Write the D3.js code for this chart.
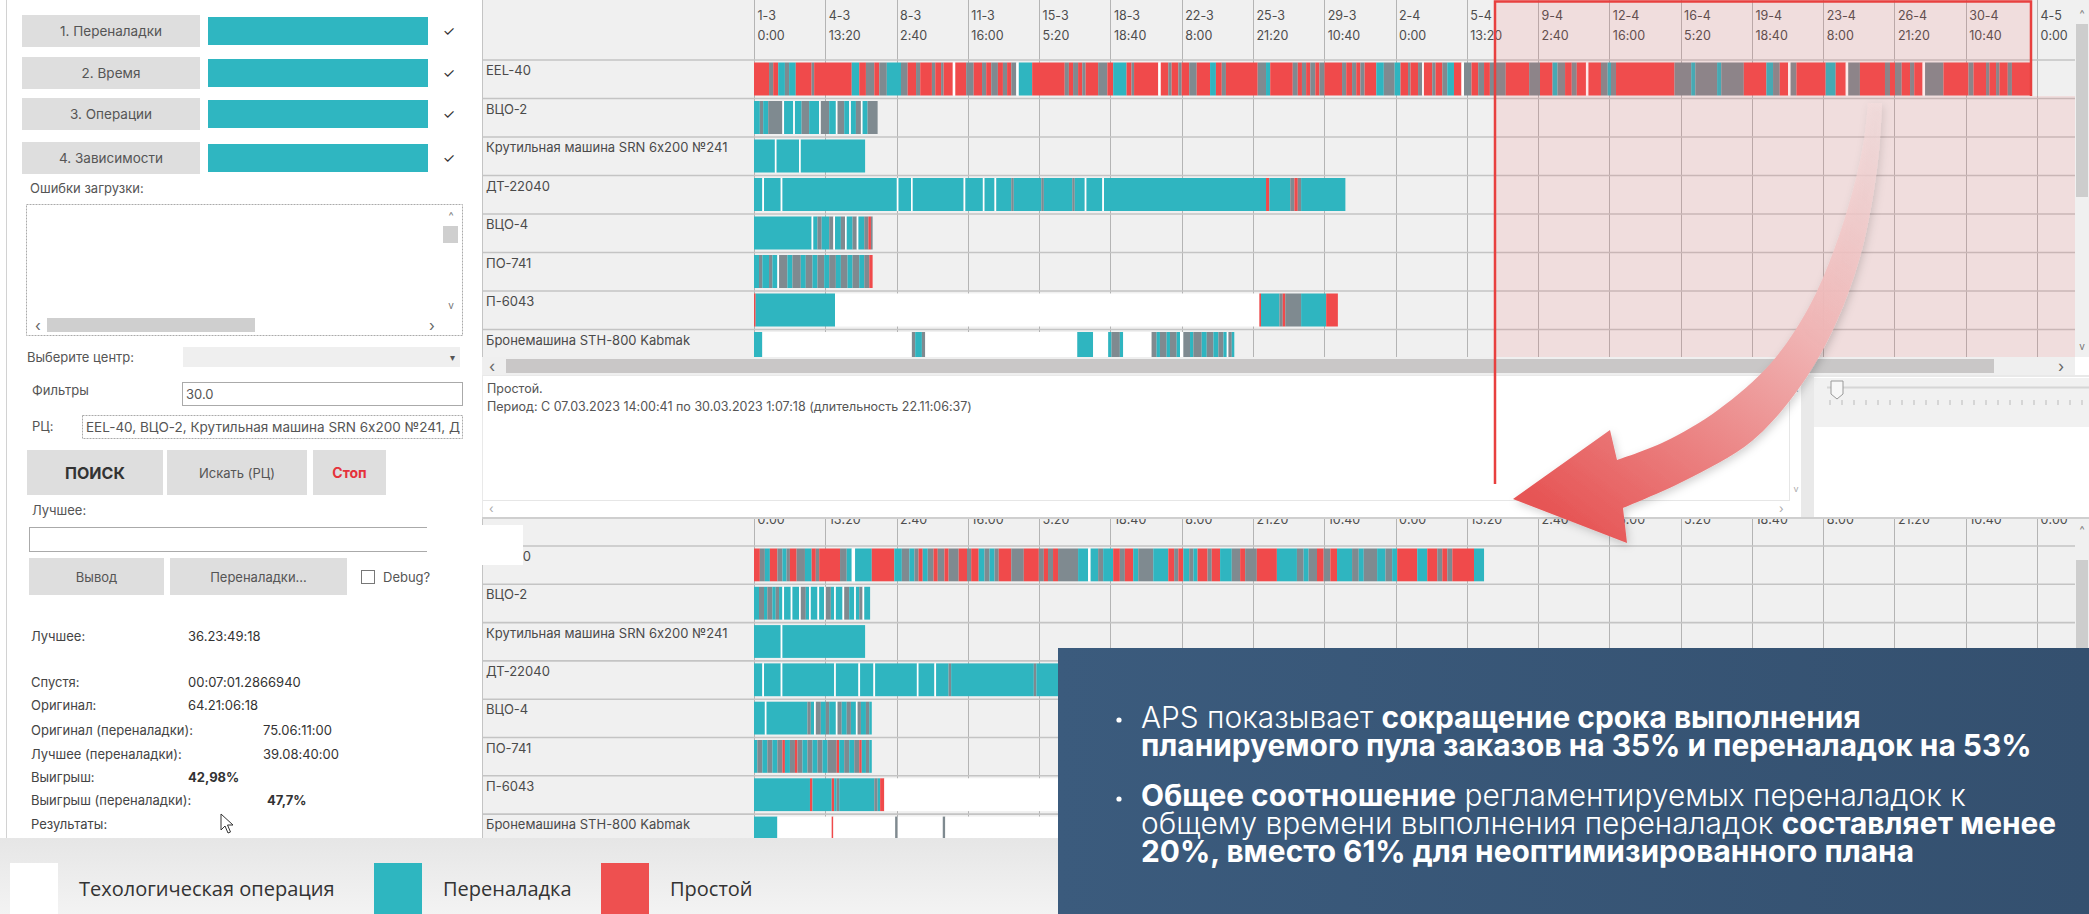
<!DOCTYPE html>
<html>
<head>
<meta charset="utf-8">
<script src="https://cdn.jsdelivr.net/npm/d3@7"></script>
<style>
  body { margin: 0; background: #fff; overflow: hidden; }
  svg { display: block; font-family: Inter, "Noto Sans", sans-serif; font-feature-settings: "calt" 0; }
</style>
</head>
<body>
<svg id="chart" width="2089" height="914"></svg>
<script>
/* Timeline ticks (every 3 d 13:20) */
const tickStrings = [
  "2023-03-01 00:00", "2023-03-04 13:20", "2023-03-08 02:40", "2023-03-11 16:00",
  "2023-03-15 05:20", "2023-03-18 18:40", "2023-03-22 08:00", "2023-03-25 21:20",
  "2023-03-29 10:40", "2023-04-02 00:00", "2023-04-05 13:20", "2023-04-09 02:40",
  "2023-04-12 16:00", "2023-04-16 05:20", "2023-04-19 18:40", "2023-04-23 08:00",
  "2023-04-26 21:20", "2023-04-30 10:40", "2023-05-04 00:00"
];

/* Work centers (rows) */
const machines = ["EEL-40", "ВЦО-2", "Крутильная машина SRN 6x200 №241", "ДТ-22040",
  "ВЦО-4", "ПО-741", "П-6043", "Бронемашина STH-800 Kabmak"];

/* Legend categories */
const legendItems = [
  {key: "w", name: "Техологическая операция"},
  {key: "t", name: "Переналадка"},
  {key: "r", name: "Простой"}
];

/* Segments: [start hour from 1-3 0:00, type]; the last entry closes the row
   t = переналадка, r = простой, w = операция, g = mixed thin stripes */
const origEEL40 = [[0,"r"],[18,"g"],[23,"r"],[29,"t"],[37,"g"],[42,"t"],[50,"r"],[69,"g"],[72,"r"],[117,"t"],[126,"r"],[134,"g"],[144,"r"],[150,"g"],[159,"t"],[176,"g"],[184,"r"],[194,"g"],[199,"r"],[213,"g"],[217,"r"],[224,"g"],[227,"r"],[238,"w"],[241,"r"],[254,"g"],[263,"r"],[273,"g"],[278,"r"],[284,"g"],[292,"r"],[298,"g"],[303,"r"],[308,"g"],[314,"w"],[317,"t"],[333,"r"],[372,"g"],[377,"r"],[382,"g"],[388,"r"],[393,"g"],[397,"r"],[412,"g"],[423,"r"],[430,"t"],[446,"r"],[452,"g"],[455,"r"],[484,"w"],[487,"r"],[496,"g"],[500,"r"],[508,"g"],[512,"r"],[521,"g"],[530,"r"],[546,"t"],[553,"r"],[560,"g"],[565,"r"],[603,"g"],[613,"t"],[618,"r"],[645,"g"],[651,"r"],[656,"g"],[661,"r"],[666,"g"],[672,"r"],[677,"g"],[683,"r"],[704,"g"],[709,"r"],[716,"g"],[721,"r"],[726,"g"],[731,"r"],[745,"t"],[754,"g"],[767,"t"],[774,"r"],[783,"g"],[786,"r"],[795,"g"],[800,"w"],[802,"r"],[812,"g"],[816,"r"],[824,"g"],[830,"t"],[838,"r"],[847,"w"],[850,"g"],[859,"r"],[867,"g"],[874,"r"],[881,"g"],[900,"r"],[928,"g"],[941,"r"],[956,"t"],[962,"g"],[971,"r"],[979,"g"],[985,"r"],[996,"w"],[999,"r"],[1014,"g"],[1022,"t"],[1026,"g"],[1032,"r"],[1102,"g"],[1122,"t"],[1127,"g"],[1153,"t"],[1158,"g"],[1185,"r"],[1212,"t"],[1220,"g"],[1228,"r"],[1238,"w"],[1241,"g"],[1248,"r"],[1283,"t"],[1295,"r"],[1307,"w"],[1310,"g"],[1324,"r"],[1354,"g"],[1360,"r"],[1366,"g"],[1374,"r"],[1384,"g"],[1389,"r"],[1399,"w"],[1402,"g"],[1424,"r"],[1454,"g"],[1460,"r"],[1475,"g"],[1479,"r"],[1487,"g"],[1491,"r"],[1501,"g"],[1506,"r"],[1529,null]];
const origVCO2 = [[0,"t"],[7,"g"],[11,"t"],[17,"g"],[34,"w"],[36,"t"],[47,"w"],[49,"t"],[57,"g"],[66,"t"],[78,"w"],[80,"g"],[90,"t"],[98,"w"],[100,"g"],[108,"t"],[114,"w"],[116,"t"],[122,"g"],[128,"w"],[130,"t"],[136,"g"],[148,null]];
const origKrut = [[0,"t"],[25,"w"],[27,"t"],[54,"w"],[56,"t"],[133,null]];
const origDT = [[0,"t"],[10,"w"],[12,"t"],[32,"w"],[34,"t"],[171,"w"],[173,"t"],[188,"w"],[190,"t"],[251,"w"],[253,"t"],[274,"w"],[276,"t"],[288,"w"],[290,"t"],[308,"g"],[311,"t"],[344,"g"],[347,"t"],[381,"g"],[384,"t"],[396,"w"],[398,"t"],[417,"w"],[419,"t"],[613,"r"],[617,"t"],[642,"g"],[647,"r"],[651,"g"],[655,"t"],[708,null]];
const origVCO4 = [[0,"t"],[69,"w"],[71,"t"],[76,"g"],[81,"t"],[90,"g"],[95,"w"],[97,"t"],[104,"g"],[109,"w"],[111,"t"],[118,"g"],[123,"w"],[125,"t"],[132,"g"],[137,"r"],[140,"g"],[142,null]];
const origPO741 = [[0,"t"],[6,"g"],[10,"t"],[18,"g"],[22,"t"],[28,"w"],[30,"g"],[40,"t"],[46,"g"],[56,"t"],[62,"g"],[70,"t"],[76,"g"],[84,"t"],[90,"g"],[98,"t"],[104,"g"],[112,"t"],[118,"g"],[126,"t"],[132,"g"],[138,"r"],[142,null]];
const origP6043 = [[0,"r"],[2,"t"],[97,"w"],[605,"r"],[607,"t"],[629,"g"],[633,"r"],[636,"g"],[655,"t"],[685,"r"],[699,null]];
const origBron = [[0,"t"],[10,"w"],[189,"g"],[193,"t"],[201,"g"],[205,"w"],[387,"t"],[406,"w"],[424,"t"],[428,"g"],[438,"t"],[442,"w"],[476,"g"],[482,"t"],[486,"g"],[494,"t"],[498,"g"],[506,"t"],[510,"w"],[514,"g"],[522,"t"],[526,"g"],[536,"t"],[542,"g"],[550,"t"],[556,"g"],[562,"t"],[566,"w"],[568,"g"],[572,"t"],[575,null]];

const bestEEL40 = [[0,"r"],[7,"g"],[13,"t"],[19,"r"],[28,"g"],[34,"t"],[39,"g"],[43,"r"],[51,"g"],[61,"t"],[69,"r"],[74,"g"],[78,"r"],[103,"g"],[111,"t"],[117,"w"],[121,"t"],[141,"r"],[168,"t"],[177,"g"],[186,"t"],[192,"g"],[197,"r"],[202,"t"],[208,"g"],[215,"r"],[220,"g"],[228,"r"],[233,"g"],[245,"r"],[255,"g"],[260,"r"],[269,"t"],[276,"g"],[282,"t"],[288,"g"],[293,"r"],[308,"g"],[323,"r"],[341,"g"],[347,"r"],[352,"g"],[358,"r"],[364,"g"],[388,"t"],[400,"w"],[403,"t"],[412,"g"],[418,"t"],[430,"r"],[438,"g"],[444,"r"],[454,"t"],[460,"g"],[478,"t"],[496,"r"],[503,"g"],[508,"r"],[514,"t"],[521,"g"],[526,"t"],[531,"r"],[543,"g"],[548,"r"],[558,"t"],[572,"g"],[582,"r"],[588,"g"],[602,"r"],[626,"t"],[650,"g"],[658,"t"],[664,"g"],[674,"r"],[682,"g"],[690,"r"],[698,"t"],[716,"g"],[724,"t"],[730,"g"],[746,"t"],[756,"g"],[764,"t"],[770,"r"],[794,"t"],[806,"r"],[818,"g"],[824,"r"],[830,"g"],[836,"r"],[862,"t"],[874,null]];
const bestVCO2 = [[0,"t"],[6,"g"],[12,"t"],[16,"g"],[22,"t"],[26,"g"],[30,"t"],[34,"w"],[36,"t"],[44,"w"],[46,"t"],[54,"w"],[56,"g"],[62,"t"],[66,"w"],[68,"t"],[76,"w"],[78,"t"],[84,"w"],[86,"g"],[92,"t"],[96,"w"],[98,"t"],[106,"w"],[108,"g"],[114,"t"],[120,"w"],[122,"t"],[126,"g"],[130,"w"],[132,"t"],[139,null]];
const bestKrut = [[0,"t"],[32,"w"],[34,"t"],[133,null]];
const bestDT = [[0,"t"],[10,"w"],[12,"t"],[32,"w"],[34,"t"],[96,"w"],[98,"t"],[125,"w"],[127,"t"],[143,"w"],[145,"t"],[195,"w"],[197,"t"],[216,"w"],[218,"t"],[233,"g"],[236,"t"],[335,"g"],[338,"t"],[510,null]];
const bestVCO4 = [[0,"t"],[13,"w"],[15,"t"],[64,"g"],[68,"t"],[72,"w"],[74,"g"],[80,"t"],[86,"g"],[90,"t"],[98,"w"],[100,"g"],[105,"t"],[111,"g"],[116,"t"],[122,"w"],[124,"g"],[128,"t"],[134,"g"],[138,"t"],[141,null]];
const bestPO741 = [[0,"t"],[4,"g"],[10,"t"],[16,"g"],[22,"t"],[28,"g"],[34,"r"],[37,"t"],[43,"g"],[49,"r"],[52,"g"],[58,"t"],[64,"g"],[70,"t"],[76,"g"],[82,"t"],[88,"g"],[99,"r"],[102,"t"],[108,"g"],[114,"t"],[120,"g"],[126,"r"],[129,"t"],[134,"g"],[138,"t"],[141,null]];
const bestP6043 = [[0,"t"],[67,"r"],[70,"t"],[93,"r"],[96,"t"],[99,"g"],[102,"t"],[144,"g"],[148,"t"],[151,"r"],[156,"w"],[700,null]];
const bestBron = [[0,"t"],[28,"w"],[93,"r"],[95,"w"],[169,"g"],[172,"w"],[226,"g"],[229,"w"],[700,null]];

const origRows = [origEEL40, origVCO2, origKrut, origDT, origVCO4, origPO741, origP6043, origBron];
const bestRows = [bestEEL40, bestVCO2, bestKrut, bestDT, bestVCO4, bestPO741, bestP6043, bestBron];

const colors = {t: "#2fb5c0", r: "#f04a4b", g: "#7f8a90", w: "#ffffff"};

/* Scales */
const tickDates = tickStrings.map(d3.utcParse("%Y-%m-%d %H:%M"));
const t0 = tickDates[0];
const atHour = h => new Date(+t0 + h * 36e5);
const x = d3.scaleUtc()
  .domain(d3.extent(tickDates))
  .range([754, 2037]);

const toSegments = list => list.slice(0, -1)
  .map((d, i) => ({start: d[0], end: list[i + 1][0], type: d[1]}));

const svg = d3.select("#chart");
const defs = svg.append("defs");

const text = (g, x0, y0, t, o = {}) => g.append("text")
  .attr("x", x0).attr("y", y0)
  .attr("font-size", o.size || 13)
  .attr("font-weight", o.weight || 400)
  .attr("fill", o.fill || "#555")
  .attr("text-anchor", o.anchor || "start")
  .attr("dominant-baseline", "central")
  .style("font-family", o.family || null)
  .text(t);

/* Draw one Gantt panel */
const drawGantt = (id, rows, o) => {
  defs.append("clipPath").attr("id", id)
    .append("rect").attr("x", 482).attr("y", o.top)
    .attr("width", 2075 - 482).attr("height", o.bottom - o.top);

  const g = svg.append("g").attr("clip-path", `url(#${id})`);

  g.append("rect")
    .attr("x", 482).attr("y", o.top)
    .attr("width", 2075 - 482).attr("height", o.bottom - o.top)
    .attr("fill", "#f0f0f0");

  const y = d3.scaleBand()
    .domain(machines)
    .range([o.rowsTop, o.rowsTop + machines.length * o.rowH]);

  // vertical grid at the ticks
  g.append("g").selectAll("line")
    .data(tickDates)
    .join("line")
      .attr("x1", d => Math.round(x(d)) + 0.5)
      .attr("x2", d => Math.round(x(d)) + 0.5)
      .attr("y1", o.top)
      .attr("y2", o.bottom)
      .attr("stroke", "#b4b4b4");

  // row separators
  g.append("g").selectAll("line")
    .data(machines.concat(["end"]))
    .join("line")
      .attr("x1", 482).attr("x2", 2075)
      .attr("y1", (d, i) => o.rowsTop + i * y.bandwidth())
      .attr("y2", (d, i) => o.rowsTop + i * y.bandwidth())
      .attr("stroke", "#c4c4c4")
      .attr("stroke-width", 1.6);

  g.append("line")
    .attr("x1", 482.5).attr("x2", 482.5)
    .attr("y1", o.top).attr("y2", o.bottom)
    .attr("stroke", "#c4c4c4");

  // bars
  g.append("g").selectAll("g")
    .data(rows.map((r, i) => ({name: machines[i], segs: toSegments(r)})))
    .join("g")
    .each(function(row) {
      d3.select(this).selectAll("rect")
        .data(row.segs)
        .join("rect")
          .attr("x", d => x(atHour(d.start)))
          .attr("width", d => x(atHour(d.end)) - x(atHour(d.start)))
          .attr("y", y(row.name) + 2.5)
          .attr("height", y.bandwidth() - 5.5)
          .attr("fill", d => colors[d.type]);
    });

  // row labels
  g.append("g").selectAll("text")
    .data(machines)
    .join("text")
      .attr("x", 486)
      .attr("y", d => y(d) + 10)
      .attr("dominant-baseline", "central")
      .attr("font-size", 13)
      .attr("fill", "#4a4a4a")
      .text(d => d);

  // header labels via axes
  o.labels.forEach(l => {
    g.append("g")
      .attr("transform", `translate(0,${l.y})`)
      .call(d3.axisBottom(x).tickValues(tickDates).tickFormat(d3.utcFormat(l.format)).tickSize(0))
      .call(a => a.select(".domain").remove())
      .call(a => a.selectAll("text")
        .attr("x", 3).attr("y", 0).attr("dy", "0.35em")
        .attr("text-anchor", "start")
        .attr("fill", "#4d4d4d")
        .style("font-family", "Inter, sans-serif")
        .style("font-size", "12.5px"));
  });
  return g;
};

/* Top (original plan) */
drawGantt("clipTop", origRows, {
  top: 0, bottom: 357, rowsTop: 60, rowH: 38.5,
  labels: [{y: 16, format: "%-d-%-m"}, {y: 36, format: "%-H:%M"}]
});

/* Highlight of the tail of the original plan */
svg.append("path")
  .attr("d", "M1494,0H2031V96H2075V357H1494Z")
  .attr("fill", "#ef5a5a")
  .attr("fill-opacity", 0.13);

/* Top scrollbars */
svg.append("rect").attr("x", 482).attr("y", 357).attr("width", 1593).attr("height", 18).attr("fill", "#efefef");
svg.append("rect").attr("x", 506).attr("y", 359).attr("width", 1488).attr("height", 14).attr("fill", "#c9c7c7");
text(svg, 489, 366, "‹", {size: 16, fill: "#666"});
text(svg, 2058, 366, "›", {size: 16, fill: "#666"});
svg.append("rect").attr("x", 2075).attr("y", 0).attr("width", 14).attr("height", 357).attr("fill", "#f0f0f0");
svg.append("rect").attr("x", 2076).attr("y", 24).attr("width", 12).attr("height", 173).attr("fill", "#cdcdcd");
text(svg, 2082, 14, "^", {size: 11, fill: "#777", anchor: "middle"});
text(svg, 2082, 346, "v", {size: 10, fill: "#777", anchor: "middle"});

/* Details panel */
svg.append("rect").attr("x", 482).attr("y", 375).attr("width", 1607).attr("height", 143).attr("fill", "#e9e9e9");
svg.append("rect").attr("x", 483).attr("y", 376).attr("width", 1318).attr("height", 141).attr("fill", "#fff");
text(svg, 487, 388, "Простой.", {size: 12.5, fill: "#555"});
text(svg, 487, 406, "Период: С 07.03.2023 14:00:41 по 30.03.2023 1:07:18 (длительность 22.11:06:37)", {size: 12.5, fill: "#555"});
svg.append("line").attr("x1", 483).attr("x2", 1790).attr("y1", 500.5).attr("y2", 500.5).attr("stroke", "#e6e6e6");
svg.append("line").attr("x1", 1789.5).attr("x2", 1789.5).attr("y1", 376).attr("y2", 500).attr("stroke", "#e6e6e6");
text(svg, 489, 508, "‹", {size: 12, fill: "#aaa"});
text(svg, 1779, 508, "›", {size: 12, fill: "#aaa"});
text(svg, 1796, 392, "^", {size: 10, fill: "#aaa", anchor: "middle"});
text(svg, 1796, 488, "v", {size: 9, fill: "#aaa", anchor: "middle"});
svg.append("rect").attr("x", 1814).attr("y", 377).attr("width", 275).attr("height", 140).attr("fill", "#fff");
svg.append("rect").attr("x", 1814).attr("y", 378).attr("width", 275).attr("height", 49).attr("fill", "#f1f1f1");
svg.append("line").attr("x1", 1827).attr("x2", 2089).attr("y1", 387.5).attr("y2", 387.5).attr("stroke", "#d6d6d6").attr("stroke-width", 2);
svg.append("g").selectAll("line")
  .data(d3.range(23))
  .join("line")
    .attr("x1", d => 1830 + d * 12).attr("x2", d => 1830 + d * 12)
    .attr("y1", 400).attr("y2", 405)
    .attr("stroke", "#bbb");
svg.append("path").attr("d", "M1831,381H1843V394L1837,399L1831,394Z").attr("fill", "#f7f7f7").attr("stroke", "#999");

/* Bottom (optimized plan); its header is scrolled half out of view */
drawGantt("clipBottom", bestRows, {
  top: 519, bottom: 838, rowsTop: 546, rowH: 38.3,
  labels: [{y: 520, format: "%-H:%M"}]
});
svg.append("line").attr("x1", 482).attr("x2", 2089).attr("y1", 518).attr("y2", 518).attr("stroke", "#cfcfcf").attr("stroke-width", 2);
svg.append("rect").attr("x", 2075).attr("y", 519).attr("width", 14).attr("height", 130).attr("fill", "#f0f0f0");
svg.append("rect").attr("x", 2076).attr("y", 560).attr("width", 12).attr("height", 90).attr("fill", "#cdcdcd");
text(svg, 2082, 530, "^", {size: 11, fill: "#777", anchor: "middle"});

/* Red frame and marker line */
svg.append("path")
  .attr("d", "M1495,484V1.5H2031V96")
  .attr("fill", "none")
  .attr("stroke", "#e8403f")
  .attr("stroke-width", 2.5);

/* Left control panel */
const left = svg.append("g");
left.append("rect").attr("x", 0).attr("y", 0).attr("width", 482).attr("height", 838).attr("fill", "#fff");
left.append("line").attr("x1", 6.5).attr("x2", 6.5).attr("y1", 0).attr("y2", 838).attr("stroke", "#d2d2d2");

const button = (x0, y0, w, h, t, o = {}) => {
  left.append("rect").attr("x", x0).attr("y", y0).attr("width", w).attr("height", h).attr("fill", "#dedede");
  text(left, x0 + w / 2, y0 + h / 2, t, Object.assign({anchor: "middle"}, o));
};
const box = (x0, y0, w, h, dash) => left.append("rect")
  .attr("x", x0 + 0.5).attr("y", y0 + 0.5).attr("width", w).attr("height", h)
  .attr("fill", "#fff").attr("stroke", "#aaa")
  .attr("stroke-dasharray", dash || null);

const steps = ["1. Переналадки", "2. Время", "3. Операции", "4. Зависимости"];
const stepY = [15, 57, 98, 142];
steps.forEach((s, i) => {
  button(22, stepY[i], 178, 32, s, {size: 13.5});
  left.append("rect").attr("x", 208).attr("y", stepY[i] + 2).attr("width", 220).attr("height", 28).attr("fill", "#2fb6c1");
  text(left, 449, stepY[i] + 15, "✓", {size: 14, fill: "#333", anchor: "middle"});
});

text(left, 30, 188, "Ошибки загрузки:");
box(26, 204, 436, 131, "2,1");
left.append("rect").attr("x", 443).attr("y", 226).attr("width", 15).attr("height", 17).attr("fill", "#cfcfcf");
text(left, 451, 216, "^", {size: 11, fill: "#777", anchor: "middle"});
text(left, 451, 305, "v", {size: 10, fill: "#777", anchor: "middle"});
left.append("rect").attr("x", 47).attr("y", 318).attr("width", 208).attr("height", 14).attr("fill", "#cfcfcf");
text(left, 35, 325, "‹", {size: 15, fill: "#666"});
text(left, 429, 325, "›", {size: 15, fill: "#666"});

text(left, 27, 357, "Выберите центр:");
left.append("rect").attr("x", 183).attr("y", 347).attr("width", 277).attr("height", 20).attr("fill", "#efefef");
text(left, 452, 357, "▾", {size: 10, fill: "#555", anchor: "middle"});

text(left, 32, 390, "Фильтры");
box(182, 382, 280, 23);
text(left, 186, 394, "30.0");

text(left, 32, 426, "РЦ:");
defs.append("clipPath").attr("id", "clipRC")
  .append("rect").attr("x", 82).attr("y", 415).attr("width", 378).attr("height", 24);
box(82, 415, 380, 23, "2,1");
text(left, 86, 427, "EEL-40, ВЦО-2, Крутильная машина SRN 6x200 №241, ДТ-22040", {size: 13.5})
  .attr("clip-path", "url(#clipRC)");

button(27, 450, 136, 45, "ПОИСК", {size: 16, weight: 700, fill: "#333"});
button(167, 450, 140, 45, "Искать (РЦ)", {size: 13});
button(313, 450, 73, 45, "Стоп", {size: 14, weight: 700, fill: "#e5323b"});

text(left, 32, 510, "Лучшее:");
box(29, 527, 398, 24);
button(29, 558, 135, 37, "Вывод", {size: 13});
button(170, 558, 177, 37, "Переналадки...", {size: 13});
left.append("rect").attr("x", 361.5).attr("y", 570.5).attr("width", 13).attr("height", 13).attr("fill", "#fff").attr("stroke", "#777");
text(left, 383, 577, "Debug?");

/* Result figures */
const statNames = ["Лучшее:", "Спустя:", "Оригинал:", "Оригинал (переналадки):", "Лучшее (переналадки):", "Выигрыш:", "Выигрыш (переналадки):", "Результаты:"];
const statValues = ["36.23:49:18", "00:07:01.2866940", "64.21:06:18", "75.06:11:00", "39.08:40:00", "42,98%", "47,7%", ""];
const statY = [636, 682, 705, 730, 754, 777, 800, 824];
const statX = [188, 188, 188, 263, 263, 188, 267, 0];
statNames.forEach((s, i) => {
  text(left, 31, statY[i], s, {size: 13, fill: "#444"});
  text(left, statX[i], statY[i], statValues[i], {size: 13, fill: "#333", weight: i === 5 || i === 6 ? 700 : 400});
});
left.append("path")
  .attr("d", "M221,814V830L225,826L228,833L230.5,832L227.5,825L233,825Z")
  .attr("fill", "#fff").attr("stroke", "#333").attr("stroke-width", 1);

/* White patch over the bottom chart corner */
svg.append("rect").attr("x", 427).attr("y", 525).attr("width", 96).attr("height", 40).attr("fill", "#fff");

/* Legend strip */
const lg = defs.append("linearGradient").attr("id", "legendBg").attr("x1", 0).attr("y1", 0).attr("x2", 0).attr("y2", 1);
lg.append("stop").attr("offset", 0).attr("stop-color", "#e6e6e6");
lg.append("stop").attr("offset", 1).attr("stop-color", "#f3f3f3");
svg.append("rect").attr("x", 0).attr("y", 838).attr("width", 1060).attr("height", 76).attr("fill", "url(#legendBg)");

const legendX = [10, 374, 601];
const legendFill = {w: "#ffffff", t: "#2eb6c0", r: "#ee5050"};
const legend = svg.append("g").selectAll("g")
  .data(legendItems)
  .join("g")
    .attr("transform", (d, i) => `translate(${legendX[i]},863)`);
legend.append("rect")
  .attr("width", 48).attr("height", 51)
  .attr("fill", d => legendFill[d.key]);
legend.append("text")
  .attr("x", 69).attr("y", 25)
  .attr("dominant-baseline", "central")
  .style("font-family", "'Open Sans', sans-serif")
  .attr("font-size", 20)
  .attr("fill", "#333")
  .text(d => d.name);

/* Summary box */
const bg = defs.append("linearGradient").attr("id", "boxBg").attr("x1", 0).attr("y1", 0).attr("x2", 1).attr("y2", 0);
bg.append("stop").attr("offset", 0).attr("stop-color", "#3b5b7d");
bg.append("stop").attr("offset", 1).attr("stop-color", "#34506f");
svg.append("rect").attr("x", 1058).attr("y", 648).attr("width", 1031).attr("height", 266).attr("fill", "url(#boxBg)");

const summaryLines = [
  [["APS показывает ", 300], ["сокращение срока выполнения", 700]],
  [["планируемого пула заказов на 35% и переналадок на 53%", 700]],
  [["Общее соотношение", 700], [" регламентируемых переналадок к", 300]],
  [["общему времени выполнения переналадок ", 300], ["составляет менее", 700]],
  [["20%, вместо 61% для неоптимизированного плана", 700]]
];
const summaryBase = [728, 756, 806, 834, 862];
const summary = svg.append("g").attr("fill", "#fff").attr("font-size", 25);
const lines = summary.selectAll("text")
  .data(summaryLines)
  .join("text")
    .attr("x", 1141)
    .attr("y", (d, i) => summaryBase[i]);
lines.selectAll("tspan")
  .data(d => d)
  .join("tspan")
    .attr("font-weight", d => d[1])
    .text(d => d[0]);
// fit the widest bold line to the picture width
const w2 = lines.nodes()[1].getComputedTextLength();
summary.attr("font-size", 25 * 891 / w2);
summary.selectAll("circle")
  .data([720, 799])
  .join("circle")
    .attr("cx", 1119).attr("cy", d => d).attr("r", 2.6);

/* Curved arrow */
const ag = defs.append("linearGradient").attr("id", "arrowBg")
  .attr("gradientUnits", "userSpaceOnUse")
  .attr("x1", 1880).attr("y1", 100).attr("x2", 1560).attr("y2", 520);
ag.append("stop").attr("offset", 0).attr("stop-color", "#f4dede").attr("stop-opacity", 0.6);
ag.append("stop").attr("offset", 0.45).attr("stop-color", "#f0b2b2");
ag.append("stop").attr("offset", 1).attr("stop-color", "#e65454");
const sh = defs.append("filter").attr("id", "shadow").attr("x", -0.2).attr("y", -0.2).attr("width", 1.4).attr("height", 1.4);
sh.append("feDropShadow").attr("dx", 2).attr("dy", 3).attr("stdDeviation", 4).attr("flood-color", "#000").attr("flood-opacity", 0.18);

const inner = [[1868,103],[1864,140],[1853,190],[1834,250],[1809,307],[1771,363],[1718,410],[1664,442],[1617,460]];
const outer = [[1623,508],[1684,481],[1752,441],[1802,384],[1836,323],[1860,257],[1874,190],[1880,140],[1882,103]];
const curve = d3.line().curve(d3.curveCatmullRom);
const arrowPath = curve(inner) + "L1610,430L1513,499L1627,543" + curve(outer).replace(/^M/, "L") + "Z";
svg.append("path")
  .attr("d", arrowPath)
  .attr("fill", "url(#arrowBg)")
  .attr("filter", "url(#shadow)");
</script>
</body>
</html>
